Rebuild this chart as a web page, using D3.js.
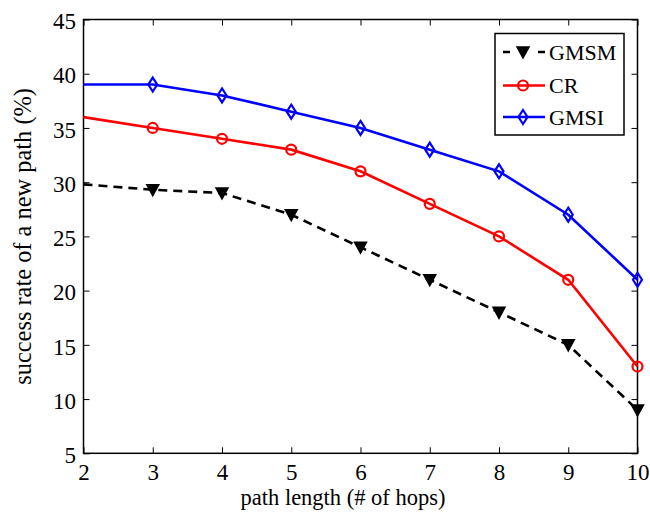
<!DOCTYPE html>
<html>
<head>
<meta charset="utf-8">
<script src="https://cdn.jsdelivr.net/npm/d3@7"></script>
<style>
  html, body { margin: 0; padding: 0; background: #fff; }
  svg { display: block; }
</style>
</head>
<body>
<svg id="chart" width="650" height="513"></svg>
<script>
// Path length in hops
const hops = [2, 3, 4, 5, 6, 7, 8, 9, 10];
// Success rate of a new path (%) for each method
const gmsm = [29.8, 29.3, 29, 27, 24, 21, 18, 15, 9];
const cr   = [36, 35, 34, 33, 31, 28, 25, 21, 13];
const gmsi = [39, 39, 38, 36.5, 35, 33, 31, 27, 21];
const seriesNames = ["GMSM", "CR", "GMSI"];
const yTicks = [5, 10, 15, 20, 25, 30, 35, 40, 45];
const xTicks = [2, 3, 4, 5, 6, 7, 8, 9, 10];

const FONT = "'Liberation Serif', 'Times New Roman', serif";
const svg = d3.select("#chart");
const plotL = 83.5, plotR = 637.5, plotT = 19.5, plotB = 453.3;

const x = d3.scaleLinear().domain([2, 10]).range([plotL, plotR]);
const y = d3.scaleLinear().domain([5, 45]).range([plotB, plotT]);

const series = [
  { name: seriesNames[0], values: gmsm, color: "#000", dash: "9,6", marker: "tri" },
  { name: seriesNames[1], values: cr,   color: "#ff0000", dash: null, marker: "circle" },
  { name: seriesNames[2], values: gmsi, color: "#0000ff", dash: null, marker: "diamond" }
];

// Frame
svg.append("rect")
  .attr("x", plotL).attr("y", plotT)
  .attr("width", plotR - plotL).attr("height", plotB - plotT)
  .attr("fill", "none").attr("stroke", "#000").attr("stroke-width", 1.5);

// Axes with inward ticks, mirrored on top and right
const tickLen = 6;
const xAxis = d3.axisBottom(x).tickValues(xTicks).tickSize(-tickLen).tickPadding(10.5);
const yAxis = d3.axisLeft(y).tickValues(yTicks).tickSize(-tickLen).tickPadding(7.5);

const gx = svg.append("g").attr("transform", `translate(0,${plotB})`).call(xAxis);
const gy = svg.append("g").attr("transform", `translate(${plotL},0)`).call(yAxis);
svg.append("g").attr("transform", `translate(0,${plotT})`)
  .call(d3.axisTop(x).tickValues(xTicks).tickSize(-tickLen).tickFormat(""));
svg.append("g").attr("transform", `translate(${plotR},0)`)
  .call(d3.axisRight(y).tickValues(yTicks).tickSize(-tickLen).tickFormat(""));

svg.selectAll(".domain").remove();
svg.selectAll(".tick line").attr("stroke", "#000").attr("stroke-width", 1);
[gx, gy].forEach(g => g.attr("font-family", null).attr("font-size", null));
gx.selectAll(".tick text").style("font-family", FONT).style("font-size", "23px").attr("dy", "0.71em");
gy.selectAll(".tick text").style("font-family", FONT).style("font-size", "23px").attr("dy", "0.4em");

// Axis titles, sized to their set lengths
function fitText(sel, target) {
  const w = sel.node().getComputedTextLength();
  const fs = parseFloat(sel.style("font-size"));
  sel.style("font-size", (fs * target / w).toFixed(2) + "px");
}
const xTitle = svg.append("text")
  .attr("x", 343).attr("y", 505)
  .attr("text-anchor", "middle")
  .style("font-family", FONT).style("font-size", "20px").attr("fill", "#000")
  .text("path length (# of hops)");
fitText(xTitle, 205);
const yTitle = svg.append("text")
  .attr("transform", `translate(31,${(plotT + plotB) / 2}) rotate(-90)`)
  .attr("text-anchor", "middle")
  .style("font-family", FONT).style("font-size", "20px").attr("fill", "#000")
  .text("success rate of a new path (%)");
fitText(yTitle, 297);

// Marker drawing
function drawMarker(g, type, color) {
  if (type === "tri") {
    g.append("path").attr("d", "M-6,-5 L6,-5 L0,6 Z")
      .attr("fill", "#000").attr("stroke", "#000").attr("stroke-width", 1.5)
      .attr("stroke-linejoin", "miter");
  } else if (type === "circle") {
    g.append("circle").attr("r", 5)
      .attr("fill", "none").attr("stroke", color).attr("stroke-width", 2.2);
  } else {
    g.append("path").attr("d", "M0,-7 L4.5,0 L0,7 L-4.5,0 Z")
      .attr("fill", "none").attr("stroke", color).attr("stroke-width", 2.2);
  }
}

const line = d3.line().x((d, i) => x(hops[i])).y(d => y(d));

series.forEach(s => {
  svg.append("path")
    .datum(s.values)
    .attr("d", line)
    .attr("fill", "none")
    .attr("stroke", s.color)
    .attr("stroke-width", 2.6)
    .attr("stroke-dasharray", s.dash);

  s.values.forEach((v, i) => {
    if (i === 0) return;
    const g = svg.append("g").attr("transform", `translate(${x(hops[i])},${y(v)})`);
    drawMarker(g, s.marker, s.color);
  });
});

// Legend
const lg = svg.append("g");
lg.append("rect")
  .attr("x", 495).attr("y", 33.5).attr("width", 129).attr("height", 101.5)
  .attr("fill", "#fff").attr("stroke", "#000").attr("stroke-width", 1.5);
const legendY = [52, 85.5, 117];
series.forEach((s, i) => {
  const ly = legendY[i];
  lg.append("line")
    .attr("x1", 503).attr("x2", 545).attr("y1", ly).attr("y2", ly)
    .attr("stroke", s.color).attr("stroke-width", 2.6)
    .attr("stroke-dasharray", s.dash ? "7,28,7" : null);
  const g = lg.append("g").attr("transform", `translate(523,${ly})`);
  drawMarker(g, s.marker, s.color);
  lg.append("text")
    .attr("x", 549).attr("y", ly).attr("dy", "0.35em")
    .style("font-family", FONT).style("font-size", "22px").attr("fill", "#000")
    .text(s.name);
});
</script>
</body>
</html>
